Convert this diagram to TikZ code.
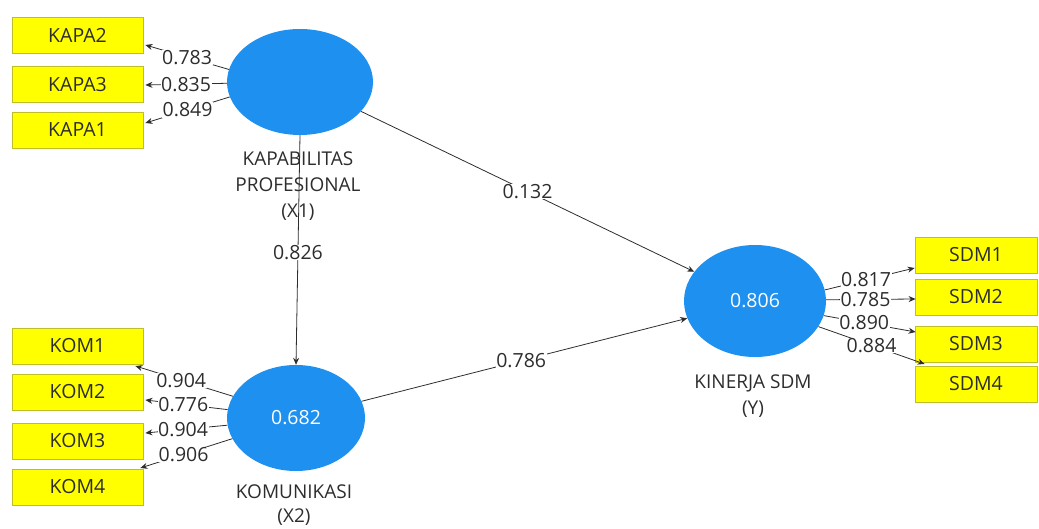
\documentclass[tikz,border=0pt]{standalone}
\usepackage{fontspec}
\setmainfont{Open Sans}
\usetikzlibrary{arrows.meta,shapes.geometric}
\definecolor{lvblue}{RGB}{30,144,240}
\definecolor{mvyellow}{RGB}{255,255,0}
\definecolor{mvborder}{RGB}{190,190,40}
\definecolor{txtgray}{RGB}{45,45,45}
\tikzset{
  mv/.style={draw=mvborder, line width=0.8pt, fill=mvyellow, minimum height=36pt, inner sep=0pt, text=txtgray, font=\fontsize{19.5}{22}\selectfont},
  lv/.style={ellipse, fill=lvblue, draw=none, inner sep=0pt, text=white, font=\fontsize{19.5}{22}\selectfont},
  lvlab/.style={align=center, text=txtgray, font=\fontsize{19}{26}\selectfont, inner sep=0pt},
  conn/.style={draw=txtgray, line width=0.8pt, -{Stealth[length=7pt,width=6pt]}},
  coef/.style={fill=white, inner sep=0.5pt, text=txtgray, font=\fontsize{19.5}{22}\selectfont},
}
\begin{document}
\begin{tikzpicture}[x=1pt,y=-1pt]
\useasboundingbox (0,0) rectangle (1039,529);
% indicator boxes
\node[mv, minimum width=131pt] (kapa2) at (77.5,35) {KAPA2};
\node[mv, minimum width=131pt] (kapa3) at (77.5,84.5) {KAPA3};
\node[mv, minimum width=131pt] (kapa1) at (77.5,130) {KAPA1};
\node[mv, minimum width=131pt] (kom1) at (77.5,346) {KOM1};
\node[mv, minimum width=131pt] (kom2) at (77.5,392) {KOM2};
\node[mv, minimum width=131pt] (kom3) at (77.5,441) {KOM3};
\node[mv, minimum width=131pt] (kom4) at (77.5,487) {KOM4};
\node[mv, minimum width=122pt] (sdm1) at (976,255) {SDM1};
\node[mv, minimum width=122pt] (sdm2) at (976,297) {SDM2};
\node[mv, minimum width=122pt] (sdm3) at (976,344) {SDM3};
% latent variables
\node[lv, minimum width=146pt, minimum height=106pt] (x1) at (300,82) {};
\node[lv, minimum width=138pt, minimum height=106pt] (x2) at (296,418) {0.682};
\node[lv, minimum width=142pt, minimum height=112pt] (y) at (755,301) {0.806};
% latent labels
\node[lvlab] (x1lab) at (298,186) {KAPABILITAS\\PROFESIONAL\\(X1)};
\node[lvlab, font=\fontsize{19}{24}\selectfont] (x2lab) at (294,505) {KOMUNIKASI\\(X2)};
\node[lvlab] (ylab) at (753,396) {KINERJA SDM\\(Y)};
% structural paths
\draw[conn] (x1.south) -- (x2.north) node[coef, pos=0.51] {0.826};
\draw[conn] (x1) -- (y) node[coef, pos=0.5] {0.132};
\draw[conn] (x2) -- (y) node[coef, pos=0.49] {0.786};
% outer loadings X1
\draw[conn] (x1.170.5) -- ([shift={(2,10)}]kapa2.east) node[coef, pos=0.5] {0.783};
\draw[conn] (x1.181) -- ([shift={(2,0.5)}]kapa3.east) node[coef, pos=0.5] {0.835};
\draw[conn] (x1.192.5) -- ([shift={(2,-7)}]kapa1.east) node[coef, pos=0.5] {0.849};
% outer loadings X2
\draw[conn] (x2.161.8) -- ([shift={(-8,20)}]kom1.east) node[coef, pos=0.53] {0.904};
\draw[conn] (x2.173) -- ([shift={(2,8)}]kom2.east) node[coef, pos=0.54] {0.776};
\draw[conn] (x2.186) -- ([shift={(2,-8)}]kom3.east) node[coef, pos=0.54] {0.904};
\draw[conn] (x2.198.4) -- ([shift={(-3,-19)}]kom4.east) node[coef, pos=0.53] {0.906};
% outer loadings Y
\draw[conn] (y.9.7) -- ([shift={(0,13)}]sdm1.west) node[coef, pos=0.46] {0.817};
\draw[conn] (y.1) -- ([shift={(1,2)}]sdm2.west) node[coef, pos=0.44] {0.785};
\draw[conn] (y.-12.7) -- ([shift={(1,-12)}]sdm3.west) node[coef, pos=0.44] {0.890};
\node[mv, minimum width=122pt] (sdm4) at (976,384) {SDM4};
\draw[conn] (y.-22) -- ([shift={(10,-20)}]sdm4.west) node[coef, pos=0.5] {0.884};
\end{tikzpicture}
\end{document}
